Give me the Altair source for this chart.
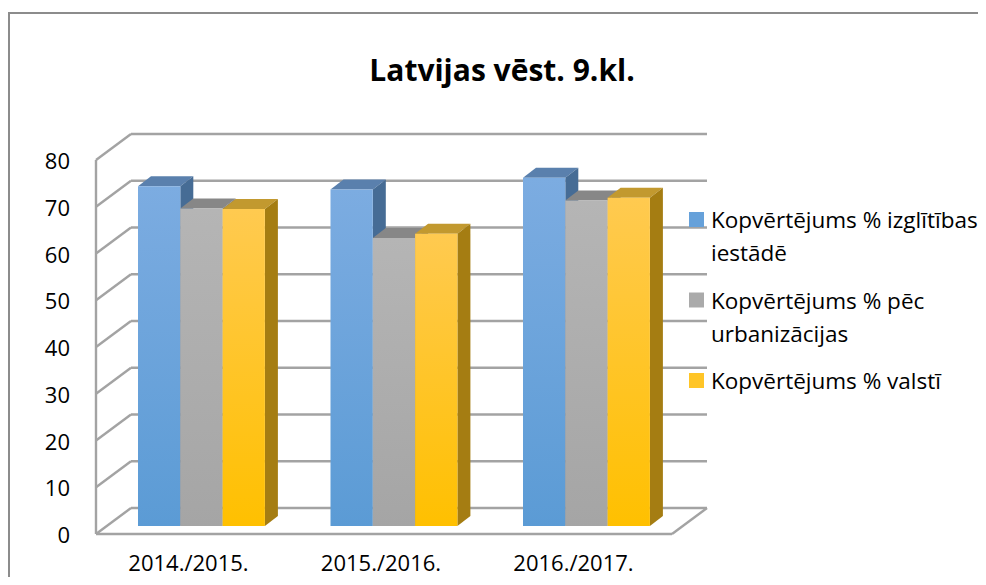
import altair as alt
import pandas as pd

# ---------------- data ----------------
title_text = "Latvijas vēst. 9.kl."
years = ["2014./2015.", "2015./2016.", "2016./2017."]
series_names = [
    "Kopvērtējums % izglītības iestādē",
    "Kopvērtējums % pēc urbanizācijas",
    "Kopvērtējums % valstī",
]
legend_lines = [
    "Kopvērtējums % izglītības\niestādē",
    "Kopvērtējums % pēc\nurbanizācijas",
    "Kopvērtējums % valstī",
]
v_iestade = [72.7, 72.0, 74.5]
v_urban = [67.9, 61.6, 69.6]
v_valsti = [67.8, 62.5, 70.2]
y_ticks = [0, 10, 20, 30, 40, 50, 60, 70, 80]

# ---------------- styles ----------------
front_top = ["#7cace1", "#b5b5b5", "#ffca50"]
front_bot = ["#5b9bd5", "#a5a5a5", "#ffc000"]
cap_col = ["#5a80ad", "#878787", "#c2992f"]
side_col = ["#466c95", "#7a7a7a", "#a57d12"]
legend_col = ["#66a1da", "#aaaaaa", "#ffc527"]
grid_col = "#a3a3a3"
border_col = "#8c8c8c"
FONT = "Open Sans"

# ---------------- layout (bar units on x) ----------------
W, H = 574, 374
PXU = 42.3                 # pixels per bar width
X_MAX = W / PXU
FIRST = 31 / PXU
STEP = 192.5 / PXU
DX = 13 / PXU
DY = 10 * 80 / H

XS = alt.Scale(domain=[0, X_MAX], nice=False, zero=False)
YS = alt.Scale(domain=[0, 80], nice=False, zero=True)

all_vals = [v_iestade, v_urban, v_valsti]
front, side, cap = [], [], []
for s, (name, vals) in enumerate(zip(series_names, all_vals)):
    for g, yr in enumerate(years):
        x0 = FIRST + g * STEP + s
        x1 = x0 + 1
        v = vals[g]
        bid = f"{s}-{g}"
        front.append(dict(s=s, series=name, year=yr, x0=x0, x1=x1, v=v, base=0))
        side += [dict(s=s, bid=bid, x=x1, y=v, y2=0),
                 dict(s=s, bid=bid, x=x1 + DX, y=v + DY, y2=DY)]
        cap += [dict(s=s, bid=bid, x=x0, y=v, y2=v),
                dict(s=s, bid=bid, x=x0 + DX, y=v + DY, y2=v),
                dict(s=s, bid=bid, x=x1, y=v + DY, y2=v),
                dict(s=s, bid=bid, x=x1 + DX, y=v + DY, y2=v + DY)]
front_df = pd.DataFrame(front)
side_df = pd.DataFrame(side)
cap_df = pd.DataFrame(cap)
tick_df = pd.DataFrame({"t": y_ticks, "lab": [str(t) for t in y_ticks]})
year_df = pd.DataFrame({"year": years,
                        "xc": [FIRST + g * STEP + 1.5 for g in range(len(years))]})
leg_df = pd.DataFrame({
    "lab": legend_lines,
    "color": legend_col,
    "sy": [60 + i * 80.5 for i in range(3)],
    "sy2": [75 + i * 80.5 for i in range(3)],
    "ty": [76 + i * 80.5 for i in range(3)],
})

layers = []

# back wall gridlines
layers.append(alt.Chart(tick_df).mark_rule(color=grid_col, strokeWidth=2.4, yOffset=-18).encode(
    x=alt.value(24), x2=alt.value(600), y=alt.Y("t:Q", scale=YS, axis=None)))
# left wall diagonals
layers.append(alt.Chart(tick_df).mark_rule(color=grid_col, strokeWidth=2.4, yOffset=8, y2Offset=-18).encode(
    x=alt.value(-11), x2=alt.value(24), y=alt.Y("t:Q", scale=YS, axis=None), y2="t:Q"))
# left wall front edge
layers.append(alt.Chart(pd.DataFrame({"a": [80], "b": [0]})).mark_rule(
    color=grid_col, strokeWidth=2.4, yOffset=8, y2Offset=8).encode(
    x=alt.value(-11), y=alt.Y("a:Q", scale=YS, axis=None), y2="b:Q"))
# floor front edge and right edge
layers.append(alt.Chart(pd.DataFrame({"b": [0]})).mark_rule(
    color=grid_col, strokeWidth=2.4, yOffset=8, y2Offset=8).encode(
    x=alt.value(-11), x2=alt.value(565), y=alt.Y("b:Q", scale=YS, axis=None), y2="b:Q"))
layers.append(alt.Chart(pd.DataFrame({"b": [0]})).mark_rule(
    color=grid_col, strokeWidth=2.4, yOffset=8, y2Offset=-18).encode(
    x=alt.value(565), x2=alt.value(600), y=alt.Y("b:Q", scale=YS, axis=None), y2="b:Q"))

# caps and side faces
for s in range(3):
    layers.append(alt.Chart(cap_df[cap_df.s == s]).mark_area(color=cap_col[s], opacity=1).encode(
        x=alt.X("x:Q", scale=XS, axis=None), y=alt.Y("y:Q", scale=YS, axis=None), y2="y2:Q",
        detail="bid:N"))
    layers.append(alt.Chart(side_df[side_df.s == s]).mark_area(color=side_col[s], opacity=1).encode(
        x=alt.X("x:Q", scale=XS, axis=None), y=alt.Y("y:Q", scale=YS, axis=None), y2="y2:Q",
        detail="bid:N"))

# front faces
for s in range(3):
    grad = alt.LinearGradient(
        gradient="linear", x1=0, x2=0, y1=0, y2=1,
        stops=[alt.GradientStop(color=front_top[s], offset=0),
               alt.GradientStop(color=front_bot[s], offset=1)])
    layers.append(alt.Chart(front_df[front_df.s == s]).mark_rect(color=grad).encode(
        x=alt.X("x0:Q", scale=XS, axis=None), x2="x1:Q",
        y=alt.Y("v:Q", scale=YS, axis=None), y2="base:Q",
        tooltip=["series:N", "year:N", "v:Q"]))

# y labels
layers.append(alt.Chart(tick_df).mark_text(
    align="right", baseline="middle", font=FONT, fontSize=22, color="#000", yOffset=10).encode(
    x=alt.value(-37), y=alt.Y("t:Q", scale=YS, axis=None), text="lab:N"))
# x labels
layers.append(alt.Chart(year_df).mark_text(
    align="center", baseline="alphabetic", font=FONT, fontSize=22, color="#000", xOffset=-13).encode(
    x=alt.X("xc:Q", scale=XS, axis=None), y=alt.value(419), text="year:N"))

# legend
layers.append(alt.Chart(leg_df).mark_rect().encode(
    x=alt.value(582), x2=alt.value(597),
    y=alt.Y("sy:Q", scale=None), y2="sy2:Q",
    color=alt.Color("color:N", scale=None)))
layers.append(alt.Chart(leg_df).mark_text(
    align="left", baseline="alphabetic", font=FONT, fontSize=22.5, lineHeight=33,
    lineBreak="\n", color="#000").encode(
    x=alt.value(604), y=alt.Y("ty:Q", scale=None), text="lab:N"))

# title
layers.append(alt.Chart(pd.DataFrame({"t": [title_text]})).mark_text(
    align="center", baseline="alphabetic", font=FONT, fontSize=30, fontWeight="bold",
    color="#000").encode(x=alt.value(395), y=alt.value(-71), text="t:N"))

# chart border
layers.append(alt.Chart(pd.DataFrame({"a": [0]})).mark_rule(color=border_col, strokeWidth=2).encode(
    x=alt.value(-99), x2=alt.value(880), y=alt.value(-139)))
layers.append(alt.Chart(pd.DataFrame({"a": [0]})).mark_rule(color=border_col, strokeWidth=2).encode(
    x=alt.value(-98), y=alt.value(-139), y2=alt.value(430)))

chart = alt.layer(*layers).properties(
    width=W, height=H,
    padding={"left": 99, "top": 144, "right": 297, "bottom": 51},
    autosize=alt.AutoSizeParams(type="none"),
).configure_view(strokeWidth=0)

chart.save("out.html", embed_options={"renderer": "svg", "actions": False})
